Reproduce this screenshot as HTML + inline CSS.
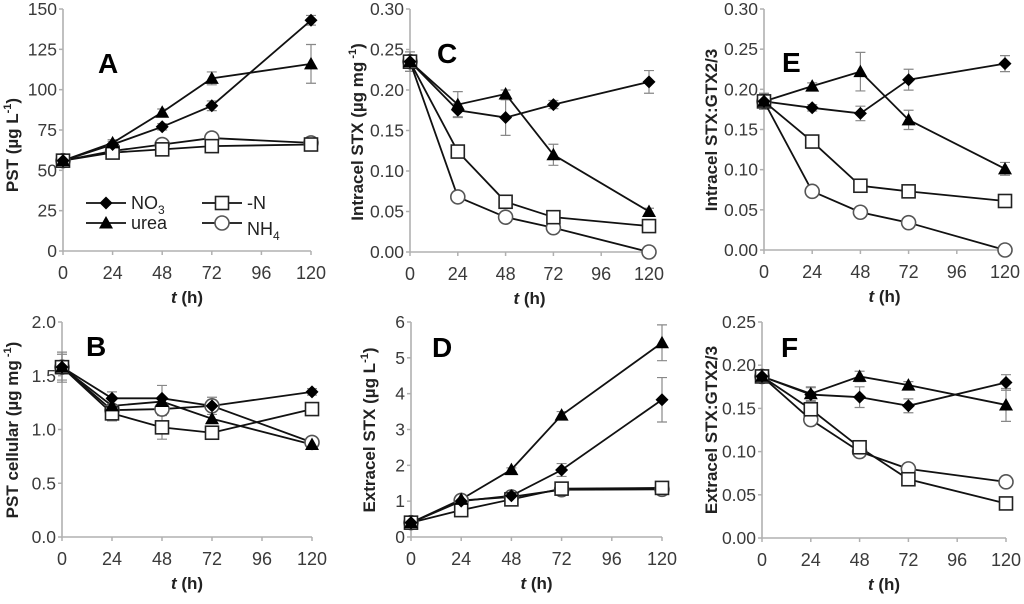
<!DOCTYPE html>
<html><head><meta charset="utf-8"><style>
body{margin:0;background:#fff}
svg text{font-family:"Liberation Sans",Arial,sans-serif}
</style></head><body>
<svg id="fig" width="1024" height="599" xmlns="http://www.w3.org/2000/svg"></svg>
<script>
const hours=[0,24,48,72,120];
const xTicks=[0,24,48,72,96,120];
const seriesNames=['NO3','urea','-N','NH4'];
// Panel A
const aNO3=[56,66,77,90,143], aUrea=[56,67,86,107,116], aN=[56,61,63,65,66], aNH4=[56,62,66,70,67];
const aErrUrea=[2,2,2,4,12], aErrNO3=[2,2,2,3,3];
const aTicks=[0,25,50,75,100,125,150];
// Panel C
const cNO3=[0.235,0.175,0.166,0.182,0.21], cUrea=[0.235,0.182,0.195,0.12,0.05], cN=[0.235,0.124,0.062,0.043,0.032], cNH4=[0.235,0.068,0.043,0.030,0.0];
const cErrNO3=[0.012,0.008,0.022,0.005,0.014], cErrUrea=[0.012,0.016,0.005,0.013,0.004];
const cTicks=[0,0.05,0.10,0.15,0.20,0.25,0.30];
// Panel E
const eNO3=[0.185,0.177,0.170,0.212,0.232], eUrea=[0.185,0.204,0.222,0.162,0.101], eN=[0.185,0.135,0.080,0.073,0.061], eNH4=[0.185,0.073,0.047,0.034,0.0];
const eErrNO3=[0.01,0.004,0.009,0.013,0.01], eErrUrea=[0.01,0.004,0.024,0.012,0.008];
const eTicks=[0,0.05,0.10,0.15,0.20,0.25,0.30];
// Panel B
const bNO3=[1.58,1.29,1.29,1.22,1.35], bUrea=[1.58,1.22,1.26,1.10,0.86], bN=[1.58,1.15,1.02,0.97,1.19], bNH4=[1.58,1.18,1.19,1.22,0.88];
const bErrNO3=[0.14,0.06,0.12,0.08,0.03], bErrN=[0.12,0.07,0.11,0.04,0.05];
const bTicks=[0,0.5,1.0,1.5,2.0];
// Panel D
const dNO3=[0.4,1.0,1.15,1.87,3.83], dUrea=[0.4,1.05,1.88,3.4,5.42], dN=[0.4,0.75,1.05,1.35,1.37], dNH4=[0.4,1.02,1.12,1.32,1.33];
const dErrNO3=[0.05,0.05,0.08,0.18,0.62], dErrUrea=[0.05,0.05,0.05,0.1,0.5];
const dTicks=[0,1,2,3,4,5,6];
// Panel F
const fNO3=[0.187,0.166,0.163,0.153,0.18], fUrea=[0.187,0.167,0.187,0.177,0.154], fN=[0.187,0.149,0.105,0.068,0.040], fNH4=[0.187,0.137,0.100,0.080,0.065];
const fErrNO3=[0.004,0.008,0.012,0.008,0.009], fErrUrea=[0.004,0.008,0.006,0.004,0.019];
const fTicks=[0,0.05,0.10,0.15,0.20,0.25];

const NS='http://www.w3.org/2000/svg';
const svg=document.getElementById('fig');
function mk(tag,attrs,parent){const e=document.createElementNS(NS,tag);for(const k in attrs)e.setAttribute(k,attrs[k]);(parent||svg).appendChild(e);return e;}

function marker(g,kind,x,y){
  let m;
  if(kind==='NO3'){m=mk('path',{d:`M${x} ${y-6.5}L${x+6.5} ${y}L${x} ${y+6.5}L${x-6.5} ${y}Z`,fill:'#000'},g);}
  else if(kind==='urea'){m=mk('path',{d:`M${x} ${y-7}L${x+7} ${y+5.5}L${x-7} ${y+5.5}Z`,fill:'#000'},g);}
  else if(kind==='-N'){m=mk('rect',{x:x-6.5,y:y-6.5,width:13,height:13,fill:'#fff',stroke:'#222','stroke-width':1.6},g);}
  else {m=mk('circle',{cx:x,cy:y,r:7,fill:'#fff',stroke:'#555','stroke-width':1.6},g);}
  
  
}

function panel(p){
  const g=mk('g',{});
  
  
  const X=v=>p.x0+(v-0)/(120)*(p.x1-p.x0);
  const Y=v=>p.y1-(v-p.ticks[0])/(p.ticks[p.ticks.length-1]-p.ticks[0])*(p.y1-p.y0);
  const ax=mk('path',{d:`M${p.x0} ${p.y0}V${p.y1}H${p.x1}`,fill:'none',stroke:'#b0b0b0','stroke-width':1.6},g);
  
  p.ticks.forEach((t,i)=>{
    mk('line',{x1:p.x0-4,x2:p.x0,y1:Y(t),y2:Y(t),stroke:'#b0b0b0','stroke-width':1.5},g);
    const tx=mk('text',{x:p.x0-6,y:Y(t)+6,'text-anchor':'end','font-size':17.5,fill:'#3a3a3a'},g);
    tx.textContent=p.fmt(t);
    
  });
  xTicks.forEach(t=>{
    mk('line',{x1:X(t),x2:X(t),y1:p.y1,y2:p.y1+4,stroke:'#b0b0b0','stroke-width':1.5},g);
    const tx=mk('text',{x:X(t),y:p.y1+28,'text-anchor':'middle','font-size':18,fill:'#3a3a3a'},g);
    tx.textContent=t;
    
  });
  const xt=mk('text',{x:(p.x0+p.x1)/2,y:p.y1+52,'text-anchor':'middle','font-size':17,'font-weight':'bold',fill:'#222'},g);
  xt.innerHTML='<tspan font-style="italic">t</tspan> (h)';
  
  const cy=p.ycy;
  const yt=mk('text',{x:p.ytx,y:cy,'text-anchor':'middle','font-size':17,'font-weight':'bold',fill:'#222',transform:`rotate(-90 ${p.ytx} ${cy})`},g);
  yt.innerHTML=p.ytitle;
  
  const lt=mk('text',{x:p.lx,y:p.ly,'font-size':28,'font-weight':'bold',fill:'#000'},g);
  lt.textContent=p.letter;
  
  p.errs.forEach(([vals,err])=>{
    hours.forEach((h,i)=>{
      const x=X(h),ya=Y(vals[i]+err[i]),yb=Y(vals[i]-err[i]);
      const e=mk('path',{d:`M${x} ${ya}V${yb}M${x-5} ${ya}H${x+5}M${x-5} ${yb}H${x+5}`,stroke:'#888','stroke-width':1.2,fill:'none'},g);
      
    });
  });
  const order=[3,2,1,0];
  order.forEach(k=>{
    const vals=p.series[k];
    const l=mk('polyline',{points:hours.map((h,i)=>X(h)+','+Y(vals[i])).join(' '),fill:'none',stroke:'#111','stroke-width':1.8},g);
    
  });
  order.forEach(k=>{
    const vals=p.series[k];
    hours.forEach((h,i)=>marker(g,seriesNames[k],X(h),Y(vals[i])));
  });
}
const f0=d=>v=>v.toFixed(d);
panel({letter:'A',x0:63,x1:311,y0:9,y1:251,ticks:aTicks,fmt:f0(0),series:[aNO3,aUrea,aN,aNH4],errs:[[aUrea,aErrUrea],[aNO3,aErrNO3]],ytx:18,ycy:145,lx:98,ly:73,ytitle:'PST (µg  L<tspan dy="-7" font-size="11">-1</tspan><tspan dy="7">)</tspan>'});
panel({letter:'C',x0:410,x1:649,y0:9,y1:252,ticks:cTicks,fmt:f0(2),series:[cNO3,cUrea,cN,cNH4],errs:[[cNO3,cErrNO3],[cUrea,cErrUrea]],ytx:363,ycy:132,lx:437,ly:63,ytitle:'Intracel  STX (µg  mg<tspan dy="-7" font-size="11"> -1</tspan><tspan dy="7">)</tspan>'});
panel({letter:'E',x0:764,x1:1005,y0:9,y1:250,ticks:eTicks,fmt:f0(2),series:[eNO3,eUrea,eN,eNH4],errs:[[eNO3,eErrNO3],[eUrea,eErrUrea]],ytx:717,ycy:130,lx:782,ly:72,ytitle:'Intracel  STX:GTX2/3'});
panel({letter:'B',x0:62,x1:312,y0:322,y1:537,ticks:bTicks,fmt:f0(1),series:[bNO3,bUrea,bN,bNH4],errs:[[bNO3,bErrNO3],[bN,bErrN]],ytx:18,ycy:430,lx:86,ly:356,ytitle:'PST cellular (µg  mg<tspan dy="-7" font-size="11"> -1</tspan><tspan dy="7">)</tspan>'});
panel({letter:'D',x0:411,x1:662,y0:322,y1:537,ticks:dTicks,fmt:f0(0),series:[dNO3,dUrea,dN,dNH4],errs:[[dNO3,dErrNO3],[dUrea,dErrUrea]],ytx:375,ycy:430,lx:432,ly:357,ytitle:'Extracel  STX (µg  L<tspan dy="-7" font-size="11">-1</tspan><tspan dy="7">)</tspan>'});
panel({letter:'F',x0:762,x1:1006,y0:322,y1:538,ticks:fTicks,fmt:f0(2),series:[fNO3,fUrea,fN,fNH4],errs:[[fNO3,fErrNO3],[fUrea,fErrUrea]],ytx:717,ycy:430,lx:781,ly:357,ytitle:'Extracel  STX:GTX2/3'});

const lg=mk('g',{});

[[86,203,'NO3','NO<tspan dy="5" font-size="12">3</tspan>'],[86,223,'urea','urea'],[202,203,'-N','-N'],[202,223,'NH4','NH<tspan dy="5" font-size="12">4</tspan>']].forEach(([x,y,k,lab])=>{
  const e=mk('g',{},lg);
  
  mk('line',{x1:x,x2:x+40,y1:y,y2:y,stroke:'#111','stroke-width':1.8},e);
  marker(e,k,x+20,y);
  const t=mk('text',{x:x+45,y:y+(k==='NH4'?12:6),'font-size':18,fill:'#222'},e);
  t.innerHTML=lab;
});
</script>
</body></html>
